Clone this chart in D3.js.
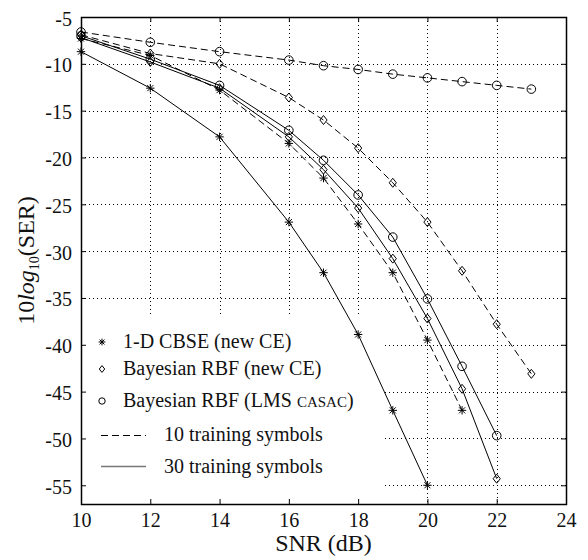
<!DOCTYPE html>
<html>
<head>
<meta charset="utf-8">
<script src="https://cdn.jsdelivr.net/npm/d3@7"></script>
<style>
  body { margin: 0; background: #fff; }
  svg { font-family: "Liberation Serif", "Times New Roman", serif; }
</style>
</head>
<body>
<svg id="chart" width="588" height="560"></svg>
<script>
// SNR points (dB) and SER values (10 log10)
var cbseX30 = [10, 12, 14, 16, 17, 18, 19, 20];
var cbse30  = [-8.7, -12.6, -17.8, -26.9, -32.3, -38.9, -47.0, -55.0];
var cbseX10 = [10, 12, 14, 16, 17, 18, 19, 20, 21];
var cbse10  = [-7.3, -9.1, -12.8, -18.5, -22.2, -27.1, -32.3, -39.5, -47.0];
var rbfX30  = [10, 12, 14, 16, 17, 18, 19, 20, 21, 22];
var rbf30   = [-7.2, -9.8, -12.6, -17.8, -21.3, -25.4, -30.8, -37.2, -44.7, -54.3];
var rbfX10  = [10, 12, 14, 16, 17, 18, 19, 20, 21, 22, 23];
var rbf10   = [-6.9, -8.9, -10.0, -13.6, -16.0, -19.0, -22.7, -26.9, -32.1, -37.8, -43.1];
var lmsX10  = [10, 12, 14, 16, 17, 18, 19, 20, 21, 22, 23];
var lms10   = [-6.6, -7.7, -8.7, -9.6, -10.2, -10.6, -11.1, -11.5, -11.9, -12.3, -12.7];
var lmsX30  = [10, 12, 14, 16, 17, 18, 19, 20, 21, 22];
var lms30   = [-7.0, -9.5, -12.3, -17.1, -20.3, -24.0, -28.5, -35.1, -42.3, -49.7];

var xTicks = [10, 12, 14, 16, 18, 20, 22, 24];
var yTicks = [-5, -10, -15, -20, -25, -30, -35, -40, -45, -50, -55];

var legendLabels = ['1-D CBSE (new CE)', 'Bayesian RBF (new CE)', 'Bayesian RBF (LMS ',
                    '10 training symbols', '30 training symbols'];

var series = [
  { xs: lmsX10,  ys: lms10,  marker: 'circle',  dashed: true },
  { xs: rbfX10,  ys: rbf10,  marker: 'diamond', dashed: true },
  { xs: cbseX10, ys: cbse10, marker: 'star',    dashed: true },
  { xs: lmsX30,  ys: lms30,  marker: 'circle',  dashed: false },
  { xs: rbfX30,  ys: rbf30,  marker: 'diamond', dashed: false },
  { xs: cbseX30, ys: cbse30, marker: 'star',    dashed: false }
];

var pL = 81, pR = 566, pT = 17, pB = 504;
var svg = d3.select('#chart');

var x = d3.scaleLinear().domain([10, 24]).range([pL, pR]);
var y = d3.scaleLinear().domain([-57, -5]).range([pB, pT]);

// dotted grid
var grid = svg.append('g').attr('class', 'grid')
  .attr('stroke', '#000').attr('stroke-width', 1).attr('stroke-dasharray', '1,3');
grid.selectAll('line.vx')
  .data(xTicks.filter(function (t) { return t > 10 && t < 24; }))
  .enter().append('line')
  .attr('x1', function (d) { return Math.round(x(d)) + 0.5; })
  .attr('x2', function (d) { return Math.round(x(d)) + 0.5; })
  .attr('y1', pT).attr('y2', pB);
grid.selectAll('line.hy')
  .data(yTicks.filter(function (t) { return t < -5; }))
  .enter().append('line')
  .attr('y1', function (d) { return Math.round(y(d)) + 0.5; })
  .attr('y2', function (d) { return Math.round(y(d)) + 0.5; })
  .attr('x1', pL).attr('x2', pR);

// legend background (white, no border): hides the grid, curves go on top
svg.append('rect').attr('x', pL + 1).attr('y', 317).attr('width', 383 - pL).attr('height', pB - 318)
  .attr('fill', '#fff');

// marker shapes
function markerPath(type, s) {
  if (type === 'diamond') {
    return 'M0,' + (-s) + 'L' + (s * 0.8) + ',0L0,' + s + 'L' + (-s * 0.8) + ',0Z';
  }
  if (type === 'star') {
    var d = s * 0.72;
    return 'M' + (-s) + ',0L' + s + ',0M0,' + (-s) + 'L0,' + s +
      'M' + (-d) + ',' + (-d) + 'L' + d + ',' + d + 'M' + (-d) + ',' + d + 'L' + d + ',' + (-d);
  }
  return null;
}
function drawMarker(g, type, cx, cy, s) {
  if (type === 'circle') {
    g.append('circle').attr('cx', cx).attr('cy', cy).attr('r', s)
      .attr('fill', 'none').attr('stroke', '#000').attr('stroke-width', 1);
  } else {
    g.append('path').attr('transform', 'translate(' + cx + ',' + cy + ')')
      .attr('d', markerPath(type, s))
      .attr('fill', 'none').attr('stroke', '#000').attr('stroke-width', 1);
  }
}

var line = d3.line()
  .x(function (d) { return x(d[0]); })
  .y(function (d) { return y(d[1]); });

var curves = svg.append('g').attr('class', 'curves');
series.forEach(function (s) {
  var pts = s.xs.map(function (v, i) { return [v, s.ys[i]]; });
  curves.append('path')
    .attr('d', line(pts))
    .attr('fill', 'none')
    .attr('stroke', '#000')
    .attr('stroke-width', 1)
    .attr('stroke-dasharray', s.dashed ? '7,4' : null);
  var mg = curves.append('g');
  pts.forEach(function (p) {
    drawMarker(mg, s.marker, x(p[0]), y(p[1]), s.marker === 'circle' ? 4.3 : (s.marker === 'star' ? 4.2 : 4.5));
  });
});

// legend entries
var lg = svg.append('g').attr('class', 'legend');
var rowsY = [348, 375, 407, 441, 473];
var markerTypes = ['star', 'diamond', 'circle'];
markerTypes.forEach(function (m, i) {
  drawMarker(lg, m, 102, rowsY[i] - 6, m === 'circle' ? 3.2 : 3.4);
  var t = lg.append('text').attr('x', 123).attr('y', rowsY[i])
    .attr('font-size', 20).attr('fill', '#111').text(legendLabels[i]);
  if (i === 2) {
    t.append('tspan').attr('font-size', 15).text('CASAC');
    t.append('tspan').text(')');
  }
});
lg.append('line').attr('x1', 101).attr('x2', 146).attr('y1', 435.5).attr('y2', 435.5)
  .attr('stroke', '#000').attr('stroke-dasharray', '7,4');
lg.append('line').attr('x1', 101).attr('x2', 146).attr('y1', 466.5).attr('y2', 466.5)
  .attr('stroke', '#777').attr('stroke-width', 1.3);
[3, 4].forEach(function (i) {
  lg.append('text').attr('x', 164).attr('y', rowsY[i])
    .attr('font-size', 20).attr('fill', '#111').text(legendLabels[i]);
});

// axes with inside ticks on all four sides
var axB = svg.append('g').attr('transform', 'translate(0,' + pB + ')')
  .call(d3.axisBottom(x).tickValues(xTicks).tickSizeInner(-5).tickSizeOuter(0).tickPadding(9));
var axT = svg.append('g').attr('transform', 'translate(0,' + pT + ')')
  .call(d3.axisTop(x).tickValues(xTicks).tickSizeInner(-5).tickSizeOuter(0).tickFormat(''));
var axL = svg.append('g').attr('transform', 'translate(' + pL + ',0)')
  .call(d3.axisLeft(y).tickValues(yTicks).tickSizeInner(-5).tickSizeOuter(0).tickPadding(9));
var axR = svg.append('g').attr('transform', 'translate(' + pR + ',0)')
  .call(d3.axisRight(y).tickValues(yTicks).tickSizeInner(-5).tickSizeOuter(0).tickFormat(''));

[axB, axT, axL, axR].forEach(function (a) {
  a.select('.domain').remove();
  a.attr('font-family', null);
  a.selectAll('text').attr('font-family', '"Liberation Serif", serif').attr('font-size', 20).attr('fill', '#111');
});
axL.selectAll('text').text(function (d) { return d; }).attr('dy', '0.4em');

// frame
svg.append('rect').attr('x', pL + 0.5).attr('y', pT + 0.5)
  .attr('width', pR - pL).attr('height', pB - pT)
  .attr('fill', 'none').attr('stroke', '#000').attr('stroke-width', 1.5);

// axis titles
svg.append('text').attr('x', (pL + pR) / 2).attr('y', 551)
  .attr('text-anchor', 'middle').attr('font-size', 24).attr('fill', '#111').text('SNR (dB)');

var yt = svg.append('text').attr('transform', 'translate(34,' + ((pT + pB) / 2) + ') rotate(-90)')
  .attr('text-anchor', 'middle').attr('font-size', 24).attr('fill', '#111');
yt.append('tspan').text('10');
yt.append('tspan').attr('font-style', 'italic').text('log');
yt.append('tspan').attr('font-size', 14).attr('dy', 5).text('10');
yt.append('tspan').attr('dy', -5).text('(SER)');
</script>
</body>
</html>
